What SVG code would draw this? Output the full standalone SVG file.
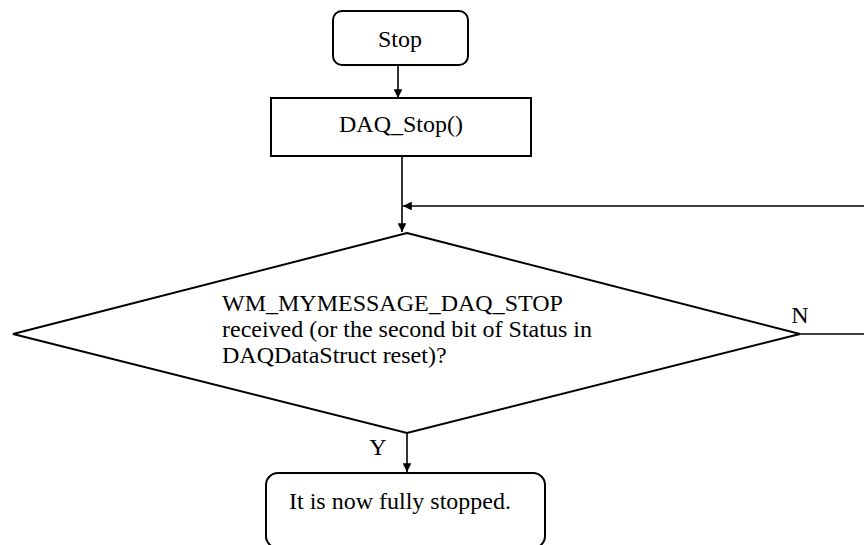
<svg xmlns="http://www.w3.org/2000/svg" width="864" height="545" viewBox="0 0 864 545">
  <style>
    .shape { fill: #ffffff; stroke: #000000; stroke-width: 2; }
    .conn { fill: none; stroke: #000000; stroke-width: 1.6; }
    .lbl { font-family: "Liberation Serif", "Times New Roman", serif; font-size: 24px; fill: #000000; }
    .mid { text-anchor: middle; }
  </style>
  <defs>
    <marker id="arrow" viewBox="0 0 10 10" refX="10" refY="5" markerWidth="5.5" markerHeight="5.5" orient="auto" markerUnits="strokeWidth">
      <path d="M0,0 L10,5 L0,10 Z" fill="#000000"/>
    </marker>
  </defs>

  <rect width="864" height="545" fill="#ffffff"/>

  <!-- connectors -->
  <g id="connectors">
    <line class="conn" x1="398" y1="65" x2="398" y2="98" marker-end="url(#arrow)"/>
    <line class="conn" x1="402" y1="156" x2="402" y2="232" marker-end="url(#arrow)"/>
    <line class="conn" x1="864" y1="206" x2="403" y2="206" marker-end="url(#arrow)"/>
    <line class="conn" x1="800" y1="334" x2="864" y2="334"/>
    <line class="conn" x1="407" y1="433" x2="407" y2="472" marker-end="url(#arrow)"/>
    <text class="lbl mid" x="800" y="323">N</text>
    <text class="lbl mid" x="378" y="455">Y</text>
  </g>

  <!-- start terminal -->
  <g id="stop">
    <rect class="shape" x="333" y="11" width="135" height="54" rx="9" ry="9"/>
    <text class="lbl mid" x="400" y="47">Stop</text>
  </g>

  <!-- stop call -->
  <g id="daq-stop">
    <rect class="shape" x="271" y="98" width="260" height="58"/>
    <text class="lbl mid" x="401" y="132">DAQ_Stop()</text>
  </g>

  <!-- wait decision -->
  <g id="decision">
    <polygon class="shape" points="407,233 800,334 407,433 13,334"/>
    <text class="lbl" x="222" y="311">WM_MYMESSAGE_DAQ_STOP</text>
    <text class="lbl" x="222" y="337">received (or the second bit of Status in</text>
    <text class="lbl" x="222" y="363">DAQDataStruct reset)?</text>
  </g>

  <!-- end terminal -->
  <g id="stopped">
    <rect class="shape" x="266" y="473" width="279" height="75" rx="12" ry="12"/>
    <text class="lbl mid" x="400" y="509">It is now fully stopped.</text>
  </g>
</svg>
